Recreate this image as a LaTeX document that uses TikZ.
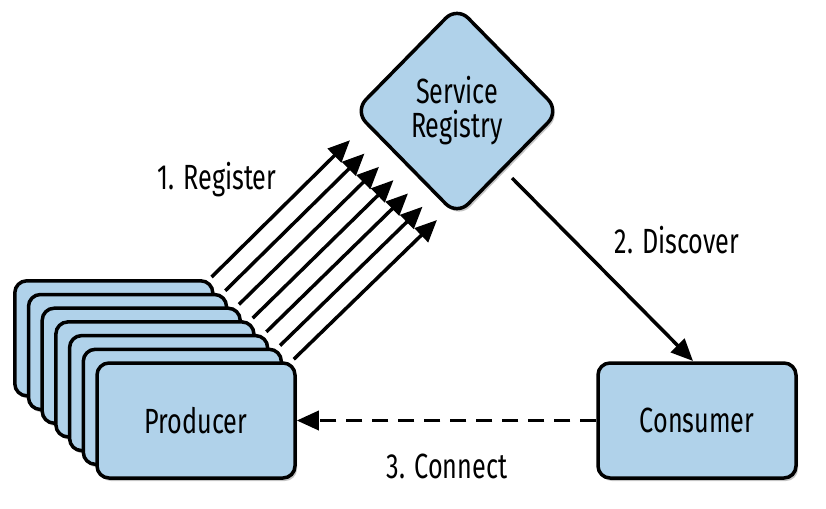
\documentclass[tikz,border=0pt]{standalone}
\usepackage{fontspec}
\setmainfont{Fira Sans}[FakeStretch=0.72]
\usetikzlibrary{shapes.geometric,arrows.meta,shadows}
\definecolor{boxblue}{RGB}{176,210,234}
\begin{document}
\begin{tikzpicture}[x=1pt,y=-1pt,
  box/.style={draw=black,line width=3.5pt,fill=boxblue,rounded corners=12pt,minimum width=198pt,minimum height=115pt,inner sep=0pt,font=\fontsize{35}{38}\selectfont,
    drop shadow={shadow xshift=2pt,shadow yshift=-3pt,fill=black!45,opacity=0.5}},
  lbl/.style={font=\fontsize{35}{38}\selectfont,inner sep=0pt},
  tip/.style={-{Triangle[length=22pt,width=19pt]}},
  reg/.style={tip,line width=3.5pt,draw=black,preaction={draw=white,line width=8pt,-}}]
\useasboundingbox (0,0) rectangle (826,508);
\node[diamond,draw,line width=3.5pt,fill=boxblue,rounded corners=16pt,minimum width=206pt,minimum height=210pt,inner sep=0pt,align=center,font=\fontsize{35}{38}\selectfont,
  drop shadow={shadow xshift=2pt,shadow yshift=-3pt,fill=black!45,opacity=0.5}] (sr) at (457,111) {Service\\[-4pt]Registry};
\foreach \k in {6,5,...,0}{
  \node[box] (p\k) at ({196-13.7*\k},{420.5-13.7*\k}) {};
  \coordinate (t\k) at ({437-14.5*\k},{220-13.3*\k});
  \draw[reg] ([xshift=-3pt,yshift=2pt]p\k.north east) -- (t\k);
}
\node[lbl] at (p0) {Producer};
\node[box] (c) at (697,420.5) {Consumer};
\coordinate (s2) at (512,178);
\coordinate (e2) at (693,361);
\draw[tip,line width=3.5pt] (s2) -- (e2);
\draw[tip,line width=3.5pt,dash pattern=on 16pt off 10pt] (c.west) -- (p0.east);
\node[lbl] at (217,180) {1. Register};
\node[lbl] at (677,240) {2. Discover};
\node[lbl] at (447,466) {3. Connect};
\end{tikzpicture}
\end{document}
